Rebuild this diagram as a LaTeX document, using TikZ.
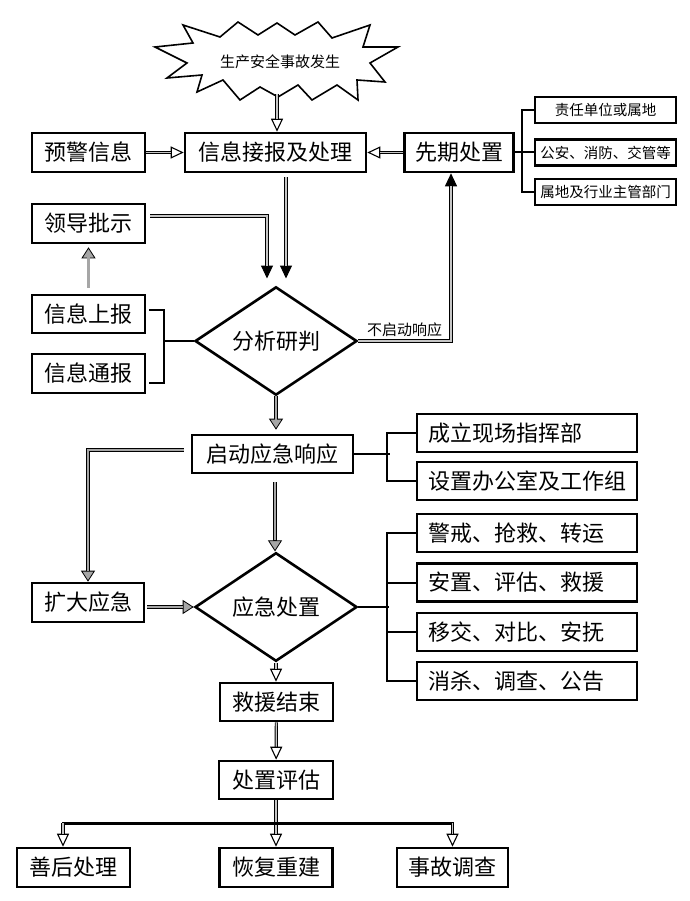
\documentclass[tikz,border=0pt]{standalone}
\usepackage{fontspec}
\setmainfont{Noto Sans CJK SC}
\usetikzlibrary{arrows.meta, shapes.geometric, calc}

\begin{document}
\begin{tikzpicture}[x=1pt, y=-1pt,
  box/.style={draw, line width=2.6pt, inner sep=2pt, minimum width=113pt, minimum height=39pt, font=\fontsize{22}{22}\selectfont},
  sbox/.style={draw, line width=2.2pt, inner sep=1pt, minimum width=141pt, minimum height=26pt, font=\fontsize{14.5}{14.5}\selectfont},
  wbox/.style={draw, line width=2.6pt, inner xsep=11pt, text width=198pt, align=left, minimum height=38pt, font=\fontsize{22}{22}\selectfont},
  judge/.style={diamond, draw, line width=2.6pt, inner sep=0pt, minimum width=162pt, minimum height=82pt, font=\fontsize{22}{22}\selectfont},
  brk/.style={draw, line width=2pt},
  dline/.style={draw=black, line width=3.2pt, postaction={draw=gray!45, line width=1.3pt, -, shorten >=13pt}},
  gline/.style={draw=black, line width=3.6pt, postaction={draw=gray!70, line width=2.2pt, -, shorten >=11pt}},
  openhead/.style={-{Triangle[open, length=13pt, width=12pt, line width=1.1pt]}},
  blackhead/.style={-{Triangle[length=13pt, width=12pt, line width=1pt]}},
  grayhead/.style={-{Triangle[length=11pt, width=14pt, fill=gray!70, line width=0.8pt]}}
]
\useasboundingbox (0,0) rectangle (689,901);
% --- event burst ---
\node[font=\fontsize{15}{15}\selectfont] (event) at (280,62) {生产安全事故发生};
\draw[line width=1.6pt, line join=miter] (155,47) -- (193,43) -- (183,25) -- (220,37) -- (238,22) -- (258,35)
  -- (277,23) -- (295,35) -- (318,22) -- (332,38) -- (370,25) -- (363,47) -- (398,47) -- (370,63)
  -- (385,82) -- (357,80) -- (358,100) -- (337,85) -- (312,100) -- (298,85) -- (278,97) -- (260,87)
  -- (240,100) -- (223,80) -- (197,92) -- (202,75) -- (167,78) -- (187,63) -- cycle;
\coordinate (burstbot) at (277,94);
% --- first row ---
\node[box] (warn) at (88.5,152.5) {预警信息};
\node[box, minimum width=181pt] (recv) at (275.5,152.5) {信息接报及处理};
\node[box, minimum width=109pt] (early) at (459,152.5) {先期处置};
\node[sbox] (unit) at (605.5,110) {责任单位或属地};
\node[sbox] (police) at (605.5,152.5) {公安、消防、交管等};
\node[sbox] (dept) at (605.5,192) {属地及行业主管部门};
\draw[brk] (early.east) -- (police.west);
\draw[brk] (unit.west) -- ++(-12,0) |- (dept.west);
\draw[dline, openhead] (burstbot) -- (burstbot |- recv.north);
\draw[dline, openhead] (warn) -- (recv);
\draw[dline, openhead] (early) -- (recv);
% --- analysis ---
\node[box] (lead) at (88.5,223.5) {领导批示};
\node[box, minimum height=38pt] (report) at (88.5,314) {信息上报};
\node[box] (notify) at (88.5,373.5) {信息通报};
\node[judge] (analyse) at (276,341) {分析研判};
\coordinate (jr) at (164,341);
\draw[dline, blackhead] ([xshift=10.5pt, yshift=-4pt]recv.south) -- ([xshift=10pt, yshift=7pt]analyse.north);
\draw[dline, blackhead] ([xshift=4pt, yshift=7.5pt]lead.east) -| ([xshift=-9pt, yshift=7pt]analyse.north);
\draw[gline, grayhead, shorten >=3pt] ([yshift=6pt]report.north) -- (lead.south);
\draw[brk] ([xshift=3pt, yshift=4pt]report.east) -| (jr) -- (analyse.west);
\draw[brk] ([xshift=3pt, yshift=-9.5pt]notify.east) -| (jr);
\draw[dline, blackhead] (analyse.east) -| ([xshift=-8pt]early.south)
  node[pos=0.25, above, inner sep=3pt, font=\fontsize{15}{15}\selectfont] {不启动响应};
% --- response ---
\node[box, minimum width=161pt, minimum height=38pt] (start) at (272.5,454) {启动应急响应};
\node[wbox] (cmd) at (527,433) {成立现场指挥部};
\node[wbox] (office) at (527,481) {设置办公室及工作组};
\draw[brk] (start.east) -- ++(35.5,0);
\draw[brk] (cmd.west) -- ++(-29,0) |- (office.west);
\draw[gline, grayhead, shorten >=4pt] (analyse.south) -- (analyse.south |- start.north);
% --- handling ---
\node[box, minimum width=112pt] (enlarge) at (88,602.5) {扩大应急};
\node[judge, minimum height=80pt] (handle) at (276,607) {应急处置};
\node[wbox] (guard) at (527,533) {警戒、抢救、转运};
\node[wbox] (settle) at (527,582.5) {安置、评估、救援};
\node[wbox] (transfer) at (527,632) {移交、对比、安抚};
\node[wbox] (clean) at (527,681) {消杀、调查、公告};
\draw[brk] (handle.east) -- ++(31,0);
\draw[brk] (guard.west) -- ++(-29,0) |- (clean.west);
\foreach \n in {settle, transfer}
  \draw[brk] (\n.west) -- ++(-29,0);
\draw[gline, grayhead] ([xshift=-7pt, yshift=4pt]start.west) -| (enlarge.north);
\draw[gline, grayhead] ([xshift=2.5pt, yshift=-8pt]start.south) -- ([xshift=2.5pt]start.south |- handle.north);
\draw[gline, grayhead] ([xshift=2pt]enlarge.east |- handle.west) -- (handle.west);
% --- closing ---
\node[box, minimum height=38pt] (finish) at (276.5,702) {救援结束};
\node[box, minimum width=114pt, minimum height=38pt] (assess) at (276,780) {处置评估};
\node[box] (after) at (73.5,867.5) {善后处理};
\node[box] (rebuild) at (276,867.5) {恢复重建};
\node[box, minimum width=111pt] (probe) at (452.5,867.5) {事故调查};
\coordinate (split) at (276,823);
\coordinate (splitl) at ([xshift=-10.5pt]after.north |- split);
\coordinate (splitr) at (probe.north |- split);
\draw[dline, openhead] (handle.south) -- (handle.south |- finish.north);
\draw[dline, openhead] (finish) -- (assess);
\draw[dline, openhead] (assess) -- (rebuild);
\draw[brk, line width=3pt, line cap=rect] (splitl) -- (splitr);
\draw[dline, openhead] (splitl) -- ([xshift=-10.5pt]after.north);
\draw[dline, openhead] (splitr) -- (probe.north);
\end{tikzpicture}
\end{document}
